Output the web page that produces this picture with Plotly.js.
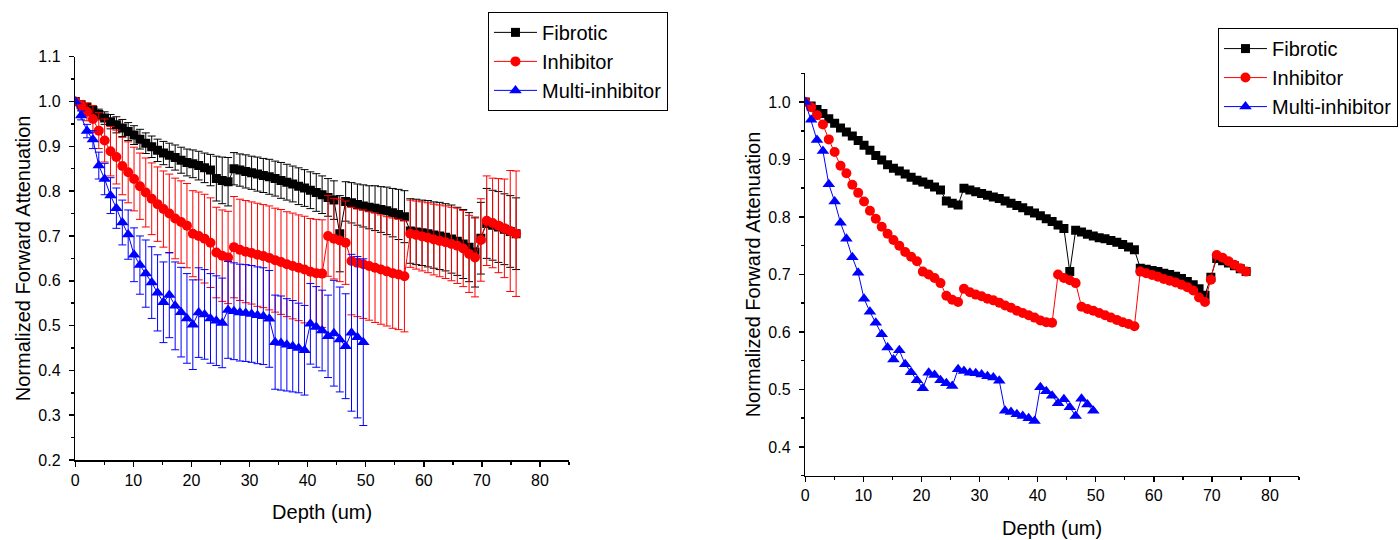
<!DOCTYPE html>
<html>
<head>
<meta charset="utf-8">
<script src="https://cdn.plot.ly/plotly-3.0.1.min.js"></script>
<style>html,body{margin:0;padding:0;background:#fff;}#chart{width:1399px;height:540px;}</style>
</head>
<body>
<div id="chart"></div>
<script>
// Depth (um) for each sample index
const depth = [0,1.01,2.02,3.04,4.05,5.06,6.07,7.08,8.10,9.11,10.12,11.13,12.14,13.16,14.17,15.18,16.19,17.20,18.22,19.23,
  20.24,21.25,22.26,23.28,24.29,25.30,26.31,27.32,28.34,29.35,30.36,31.37,32.38,33.40,34.41,35.42,36.43,37.44,38.46,39.47,
  40.48,41.49,42.50,43.52,44.53,45.54,46.55,47.56,48.58,49.59,50.60,51.61,52.62,53.64,54.65,55.66,56.67,57.68,58.70,59.71,
  60.72,61.73,62.74,63.76,64.77,65.78,66.79,67.80,68.82,69.83,70.84,71.85,72.86,73.88,74.89,75.90];
const depthMulti = [0,1.01,2.02,3.04,4.05,5.06,6.07,7.08,8.10,9.11,10.12,11.13,12.14,13.16,14.17,15.18,16.19,17.20,18.22,19.23,
  20.24,21.25,22.26,23.28,24.29,25.30,26.31,27.32,28.34,29.35,30.36,31.37,32.38,33.40,34.41,35.42,36.43,37.44,38.46,39.47,
  40.48,41.49,42.50,43.52,44.53,45.54,46.55,47.56,48.58,49.59];

const fibrotic = [1.000,0.993,0.987,0.980,0.971,0.963,0.955,0.948,0.941,0.933,0.925,0.916,0.907,0.899,0.891,0.885,0.880,0.875,0.869,0.864,
  0.861,0.857,0.852,0.847,0.828,0.824,0.821,0.850,0.847,0.844,0.841,0.838,0.835,0.832,0.828,0.824,0.820,0.816,0.811,0.807,
  0.802,0.797,0.792,0.786,0.780,0.705,0.777,0.774,0.770,0.767,0.764,0.762,0.759,0.756,0.752,0.748,0.743,0.711,0.709,0.707,
  0.705,0.702,0.700,0.697,0.693,0.688,0.682,0.675,0.664,0.695,0.728,0.724,0.720,0.715,0.710,0.705];
const inhibitor = [1.000,0.991,0.977,0.961,0.935,0.913,0.889,0.876,0.856,0.842,0.827,0.811,0.797,0.783,0.771,0.760,0.750,0.739,0.731,0.723,
  0.705,0.700,0.694,0.685,0.663,0.656,0.652,0.675,0.669,0.665,0.662,0.658,0.655,0.651,0.646,0.642,0.637,0.633,0.629,0.625,
  0.620,0.617,0.616,0.700,0.694,0.690,0.685,0.644,0.640,0.637,0.633,0.629,0.625,0.621,0.617,0.614,0.610,0.705,0.702,0.699,
  0.696,0.692,0.689,0.686,0.682,0.678,0.672,0.660,0.652,0.691,0.734,0.729,0.723,0.717,0.711,0.705];
const multiInhibitor = [1.000,0.969,0.934,0.915,0.857,0.827,0.790,0.762,0.730,0.703,0.658,0.635,0.616,0.596,0.573,0.552,0.568,0.544,0.530,0.516,
  0.502,0.529,0.525,0.516,0.511,0.506,0.535,0.532,0.529,0.528,0.526,0.523,0.521,0.515,0.463,0.461,0.457,0.454,0.450,0.445,
  0.504,0.497,0.489,0.476,0.483,0.469,0.454,0.484,0.474,0.463];

// Error (± SD) for the left panel
const fibroticErr = [0,0.004,0.007,0.010,0.012,0.014,0.016,0.018,0.019,0.020,0.021,0.022,0.023,0.024,0.025,0.026,0.027,0.028,0.029,0.030,
  0.031,0.032,0.033,0.035,0.050,0.052,0.054,0.036,0.036,0.037,0.037,0.038,0.038,0.039,0.039,0.040,0.040,0.040,0.041,0.041,
  0.041,0.042,0.042,0.042,0.043,0.085,0.044,0.045,0.046,0.047,0.048,0.050,0.051,0.053,0.054,0.056,0.058,0.072,0.073,0.073,
  0.074,0.074,0.075,0.075,0.076,0.076,0.077,0.077,0.078,0.080,0.078,0.078,0.079,0.079,0.080,0.080];
const inhibitorErr = [0,0.010,0.020,0.030,0.040,0.048,0.055,0.060,0.064,0.068,0.071,0.074,0.077,0.080,0.083,0.085,0.088,0.090,0.092,0.094,
  0.096,0.098,0.099,0.100,0.101,0.102,0.103,0.113,0.113,0.114,0.114,0.115,0.115,0.116,0.116,0.117,0.117,0.118,0.118,0.119,
  0.119,0.120,0.120,0.090,0.090,0.092,0.093,0.120,0.120,0.121,0.121,0.122,0.122,0.122,0.123,0.123,0.124,0.075,0.076,0.077,
  0.078,0.079,0.080,0.081,0.082,0.084,0.085,0.086,0.088,0.092,0.100,0.100,0.105,0.110,0.135,0.140];
const multiErr = [0,0.010,0.015,0.020,0.030,0.035,0.040,0.045,0.050,0.055,0.060,0.065,0.075,0.080,0.085,0.090,0.095,0.098,0.100,0.100,
  0.100,0.100,0.100,0.100,0.100,0.100,0.108,0.108,0.108,0.108,0.108,0.108,0.108,0.108,0.105,0.105,0.103,0.102,0.100,0.100,
  0.090,0.090,0.090,0.092,0.118,0.117,0.117,0.175,0.180,0.186];

const seriesNames = ['Fibrotic','Inhibitor','Multi-inhibitor'];
const FONT = 'Liberation Sans, Arial, sans-serif';

const styles = [
  {color:'#000000', symbol:'square', size:9},
  {color:'#ff0000', symbol:'circle', size:10},
  {color:'#0000ff', symbol:'triangle-up', size:11}
];
const xs = [depth, depth, depthMulti];
const ys = [fibrotic, inhibitor, multiInhibitor];
const errs = [fibroticErr, inhibitorErr, multiErr];

const traces = [];
for (let i = 0; i < 3; i++) {
  traces.push({
    x: xs[i], y: ys[i], name: seriesNames[i], type:'scatter', mode:'lines+markers',
    xaxis:'x', yaxis:'y', legend:'legend',
    line:{color:styles[i].color, width:1},
    marker:{color:styles[i].color, symbol:styles[i].symbol, size:styles[i].size},
    error_y:{type:'data', array:errs[i], visible:true, color:styles[i].color, thickness:1, width:4}
  });
}
for (let i = 0; i < 3; i++) {
  traces.push({
    x: xs[i], y: ys[i], name: seriesNames[i], type:'scatter', mode:'lines+markers',
    xaxis:'x2', yaxis:'y2', legend:'legend2',
    line:{color:styles[i].color, width:1},
    marker:{color:styles[i].color, symbol:styles[i].symbol, size:styles[i].size}
  });
}

function xAxis(domain, anchor) {
  return {
    domain: domain, anchor: anchor, range:[0,85], tick0:0, dtick:10,
    showline:true, linecolor:'#000', linewidth:1.5, mirror:false,
    ticks:'outside', ticklen:5, tickwidth:1.5, tickcolor:'#000',
    minor:{dtick:5, ticks:'outside', ticklen:3, tickwidth:1.5, tickcolor:'#000'},
    showgrid:false, zeroline:false,
    tickfont:{family:FONT, size:16, color:'#000'},
    title:{text:'Depth (um)', font:{family:FONT, size:20, color:'#000'}, standoff:17}
  };
}
function yAxis(domain, anchor, range) {
  return {
    domain: domain, anchor: anchor, range: range, tick0:0, dtick:0.1, tickformat:'.1f',
    showline:true, linecolor:'#000', linewidth:1.5, mirror:false,
    ticks:'outside', ticklen:5, tickwidth:1.5, tickcolor:'#000', ticklabelstandoff:5,
    minor:{dtick:0.05, ticks:'outside', ticklen:3, tickwidth:1.5, tickcolor:'#000'},
    showgrid:false, zeroline:false,
    tickfont:{family:FONT, size:16, color:'#000'},
    title:{text:'Normalized Forward Attenuation', font:{family:FONT, size:20, color:'#000'}, standoff:2}
  };
}

const legendBase = {
  xanchor:'left', yanchor:'top', bgcolor:'#fff', bordercolor:'#000', borderwidth:1,
  font:{family:FONT, size:20, color:'#000'}, tracegroupgap:0, itemwidth:43
};

const layout = {
  width:1399, height:540,
  margin:{l:0, r:0, t:0, b:0},
  paper_bgcolor:'#fff', plot_bgcolor:'#fff',
  font:{family:FONT, color:'#000'},
  showlegend:true,
  xaxis: xAxis([0.0538, 0.4067], 'y'),
  yaxis: yAxis([0.1481, 0.895], 'x', [0.2, 1.1]),
  xaxis2: xAxis([0.5756, 0.9285], 'y2'),
  yaxis2: yAxis([0.1191, 0.8643], 'x2', [0.35, 1.05]),
  legend: Object.assign({x:0.3488, y:0.978}, legendBase),
  legend2: Object.assign({x:0.8706, y:0.948}, legendBase)
};

Plotly.newPlot('chart', traces, layout, {staticPlot:true, displayModeBar:false});
</script>
</body>
</html>
